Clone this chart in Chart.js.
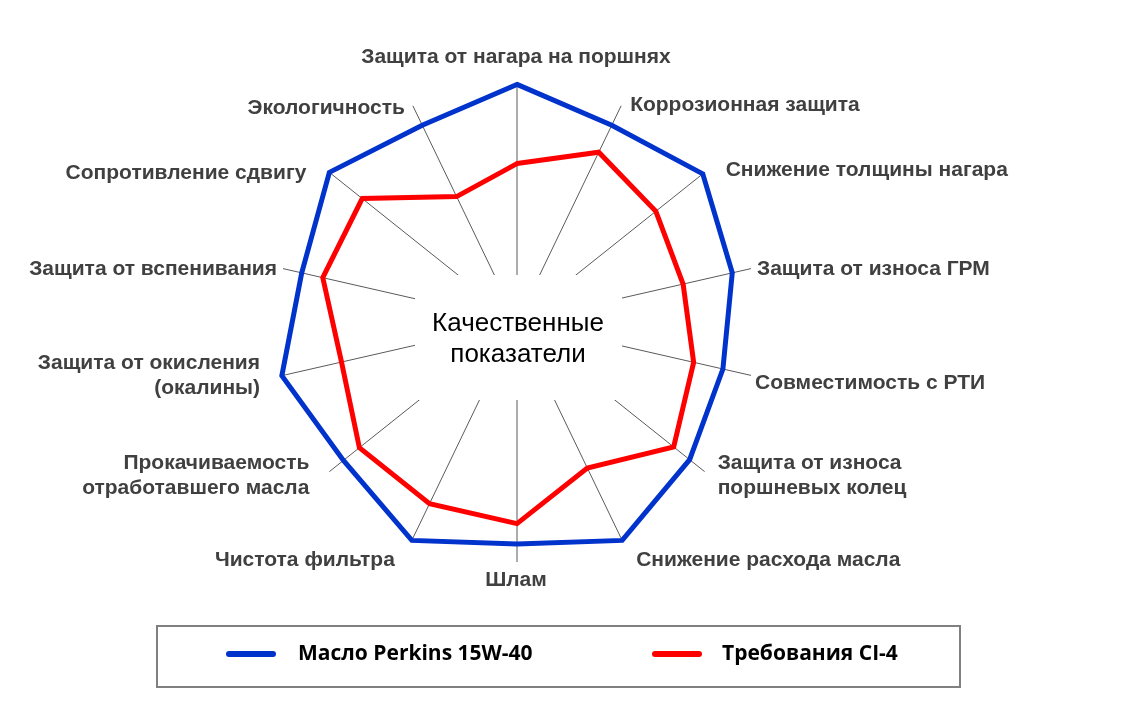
<!DOCTYPE html>
<html>
<head>
<meta charset="utf-8">
<title>Качественные показатели</title>
<script src="https://cdn.jsdelivr.net/npm/chart.js@4.4.0/dist/chart.umd.min.js"></script>
<style>
  html, body { margin: 0; padding: 0; background: #fff; }
  #wrap { width: 1130px; height: 709px; }
</style>
</head>
<body>
<div id="wrap"><canvas id="chart" width="1130" height="709"></canvas></div>
<script>
// axes, clockwise from the top
const categories = [
  'Защита от нагара на поршнях',
  'Коррозионная защита',
  'Снижение толщины нагара',
  'Защита от износа ГРМ',
  'Совместимость с РТИ',
  ['Защита от износа', 'поршневых колец'],
  'Снижение расхода масла',
  'Шлам',
  'Чистота фильтра',
  ['Прокачиваемость', 'отработавшего масла'],
  ['Защита от окисления', '(окалины)'],
  'Защита от вспенивания',
  'Сопротивление сдвигу',
  'Экологичность'
];

const perkinsValues = [9.9, 9.1, 9.9, 9.2, 8.8, 9.2, 10.1, 9.25, 10.1, 9.25, 10.05, 9.2, 10.0, 9.1];
const ci4Values = [6.6, 7.85, 7.4, 7.1, 7.55, 8.35, 6.75, 8.4, 8.4, 8.4, 7.5, 8.3, 8.25, 5.8];

const seriesNames = ['Масло Perkins 15W-40', 'Требования CI-4'];
const centerTitle = ['Качественные', 'показатели'];

// where each axis label sits relative to the end of its spoke: [align, dx, dy]
const labelPlace = [
  ['center', -1, -25],
  ['left', 9, -1],
  ['left', 21, -2],
  ['left', 6, 1],
  ['left', 4, 8],
  ['left', 13, 4],
  ['left', 15, 22],
  ['center', -1, 18],
  ['right', -18, 22],
  ['right', -20, 4],
  ['right', -23, 0],
  ['right', -6, 1],
  ['right', -23, 1],
  ['right', -8, 2]
];

const labelFont = 'bold 21px "Liberation Sans", Arial, sans-serif';
const labelColor = '#404040';

// white box with the title in the middle, hides the inner part of the spokes
const centerBox = {
  id: 'centerBox',
  beforeDatasetsDraw(chart) {
    const r = chart.scales.r;
    const ctx = chart.ctx;
    ctx.save();
    ctx.fillStyle = '#fff';
    ctx.fillRect(r.xCenter - 102, r.yCenter - 47, 207, 125);
    ctx.fillStyle = '#000';
    ctx.font = '26px "Liberation Sans", Arial, sans-serif';
    ctx.textAlign = 'center';
    ctx.textBaseline = 'alphabetic';
    ctx.fillText(centerTitle[0], r.xCenter + 1, r.yCenter + 9);
    ctx.fillText(centerTitle[1], r.xCenter + 1, r.yCenter + 40);
    ctx.restore();
  }
};

const axisLabels = {
  id: 'axisLabels',
  afterDraw(chart) {
    const r = chart.scales.r;
    const ctx = chart.ctx;
    ctx.save();
    ctx.font = labelFont;
    ctx.fillStyle = labelColor;
    ctx.textBaseline = 'middle';
    chart.data.labels.forEach((lbl, i) => {
      const p = r.getPointPosition(i, r.drawingArea);
      const [align, dx, dy] = labelPlace[i];
      const lines = Array.isArray(lbl) ? lbl : [lbl];
      const lh = 25;
      const y0 = p.y + dy - (lines.length - 1) * lh / 2;
      ctx.textAlign = align;
      lines.forEach((t, k) => ctx.fillText(t, p.x + dx, y0 + k * lh));
    });
    ctx.restore();
  }
};

const boxLegend = {
  id: 'boxLegend',
  afterDraw(chart) {
    const ctx = chart.ctx;
    ctx.save();
    ctx.strokeStyle = '#808080';
    ctx.lineWidth = 2;
    ctx.strokeRect(157, 626, 803, 61);
    const items = [
      { x: 226, tx: 298 },
      { x: 652, tx: 722 }
    ];
    ctx.font = 'bold 21px "Open Sans", "Liberation Sans", sans-serif';
    ctx.textBaseline = 'middle';
    ctx.textAlign = 'left';
    chart.data.datasets.forEach((ds, i) => {
      const it = items[i];
      ctx.beginPath();
      ctx.lineCap = 'round';
      ctx.lineWidth = 6;
      ctx.strokeStyle = ds.borderColor;
      ctx.moveTo(it.x + 3, 654);
      ctx.lineTo(it.x + 47, 654);
      ctx.stroke();
      ctx.fillStyle = '#000';
      ctx.fillText(ds.label, it.tx, 654);
    });
    ctx.restore();
  }
};

new Chart(document.getElementById('chart'), {
  type: 'radar',
  data: {
    labels: categories,
    datasets: [
      {
        label: seriesNames[0],
        data: perkinsValues,
        borderColor: '#0033CC',
        backgroundColor: 'transparent',
        fill: false,
        clip: false
      },
      {
        label: seriesNames[1],
        data: ci4Values,
        borderColor: '#FF0000',
        backgroundColor: 'transparent',
        fill: false,
        clip: false
      }
    ]
  },
  options: {
    responsive: false,
    animation: false,
    layout: { padding: { left: 277, right: 373, top: 82, bottom: 147 } },
    plugins: {
      legend: { display: false },
      tooltip: { enabled: false }
    },
    elements: {
      line: { tension: 0, borderWidth: 5, borderJoinStyle: 'miter' },
      point: { radius: 0, hoverRadius: 0 }
    },
    scales: {
      r: {
        min: 0,
        max: 10,
        startAngle: 0,
        ticks: { display: false },
        grid: { display: false },
        angleLines: { display: true, color: '#5a5a5a', lineWidth: 1 },
        pointLabels: { display: false }
      }
    }
  },
  plugins: [centerBox, axisLabels, boxLegend]
});
</script>
</body>
</html>
